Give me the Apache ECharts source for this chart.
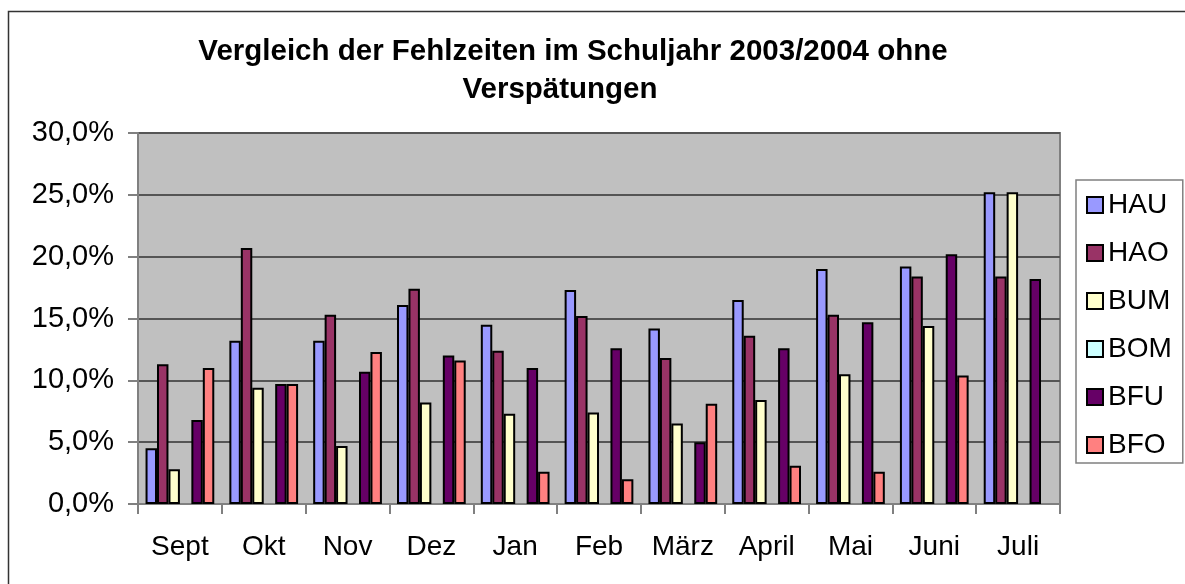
<!DOCTYPE html>
<html>
<head>
<meta charset="utf-8">
<script src="https://cdn.jsdelivr.net/npm/echarts@6/dist/echarts.min.js"></script>
<style>
html,body{margin:0;padding:0;background:#fff;}
#c{width:1185px;height:584px;}
</style>
</head>
<body>
<div id="c"></div>
<script>
const months = ['Sept','Okt','Nov','Dez','Jan','Feb','März','April','Mai','Juni','Juli'];
const HAU = [0.045,0.132,0.132,0.161,0.145,0.173,0.142,0.165,0.190,0.192,0.252];
const HAO = [0.113,0.207,0.153,0.174,0.124,0.152,0.118,0.136,0.153,0.184,0.184];
const BUM = [0.028,0.094,0.047,0.082,0.073,0.074,0.065,0.084,0.105,0.144,0.252];
const BOM = [null,null,null,null,null,null,null,null,null,null,null];
const BFU = [0.068,0.097,0.107,0.120,0.110,0.126,0.050,0.126,0.147,0.202,0.182];
const BFO = [0.110,0.097,0.123,0.116,0.026,0.020,0.081,0.031,0.026,0.104,null];
const seriesNames = ['HAU','HAO','BUM','BOM','BFU','BFO'];
const seriesData = [HAU,HAO,BUM,BOM,BFU,BFO];
const colors = ['#9999FF','#993366','#FFFFCC','#CCFFFF','#660066','#FF8080'];
const titleLines = ['Vergleich der Fehlzeiten im Schuljahr 2003/2004 ohne','Verspätungen'];

const FONT = '"Liberation Sans", Arial, sans-serif';
const chart = echarts.init(document.getElementById('c'));
chart.setOption({
  animation: false,
  textStyle: {fontFamily: FONT},
  color: colors,
  graphic: [
    {type:'rect', shape:{x:8.5,y:11.5,width:1300,height:700}, style:{fill:'none',stroke:'#333',lineWidth:1.5}, z:-10},
    {type:'text', x:573, y:37, style:{text:titleLines[0], textAlign:'center', font:'bold 29.5px '+FONT, fill:'#000'}},
    {type:'text', x:560, y:75, style:{text:titleLines[1], textAlign:'center', font:'bold 29.5px '+FONT, fill:'#000'}}
  ],
  grid: {left:138, right:125, top:133, bottom:80, show:true, backgroundColor:'#C0C0C0', borderColor:'#808080', borderWidth:2},
  legend: {
    orient:'vertical', left:1076, top:180,
    icon:'rect',
    itemWidth:16, itemHeight:16, itemGap:20, itemTextGap:12,
    padding:[11,11,4,10],
    backgroundColor:'#fff', borderColor:'#808080', borderWidth:1.5,
    textStyle:{fontSize:28, fontFamily:FONT, color:'#000', lineHeight:27},
    data: seriesNames
  },
  xAxis: {
    type:'category', data: months,
    axisLine:{show:true, lineStyle:{color:'#808080', width:2}},
    axisTick:{show:true, length:10, lineStyle:{color:'#808080', width:2}},
    axisLabel:{fontSize:28, color:'#000', margin:29, fontFamily:FONT},
    splitLine:{show:false}
  },
  yAxis: {
    type:'value', min:0, max:0.3, interval:0.05,
    axisLine:{show:true, lineStyle:{color:'#808080', width:2}},
    axisTick:{show:true, length:10, lineStyle:{color:'#808080', width:2}},
    axisLabel:{fontSize:29, color:'#000', margin:24, fontFamily:FONT,
      formatter: v => (v*100).toFixed(1).replace('.',',') + '%'},
    splitLine:{show:true, lineStyle:{color:'#555', width:2}}
  },
  series: seriesNames.map((n,i) => ({
    name:n, type:'bar', data: seriesData[i],
    barGap:'0%', barCategoryGap:'18%',
    itemStyle:{color:colors[i], borderColor:'#000', borderWidth:2}
  }))
});
</script>
</body>
</html>
